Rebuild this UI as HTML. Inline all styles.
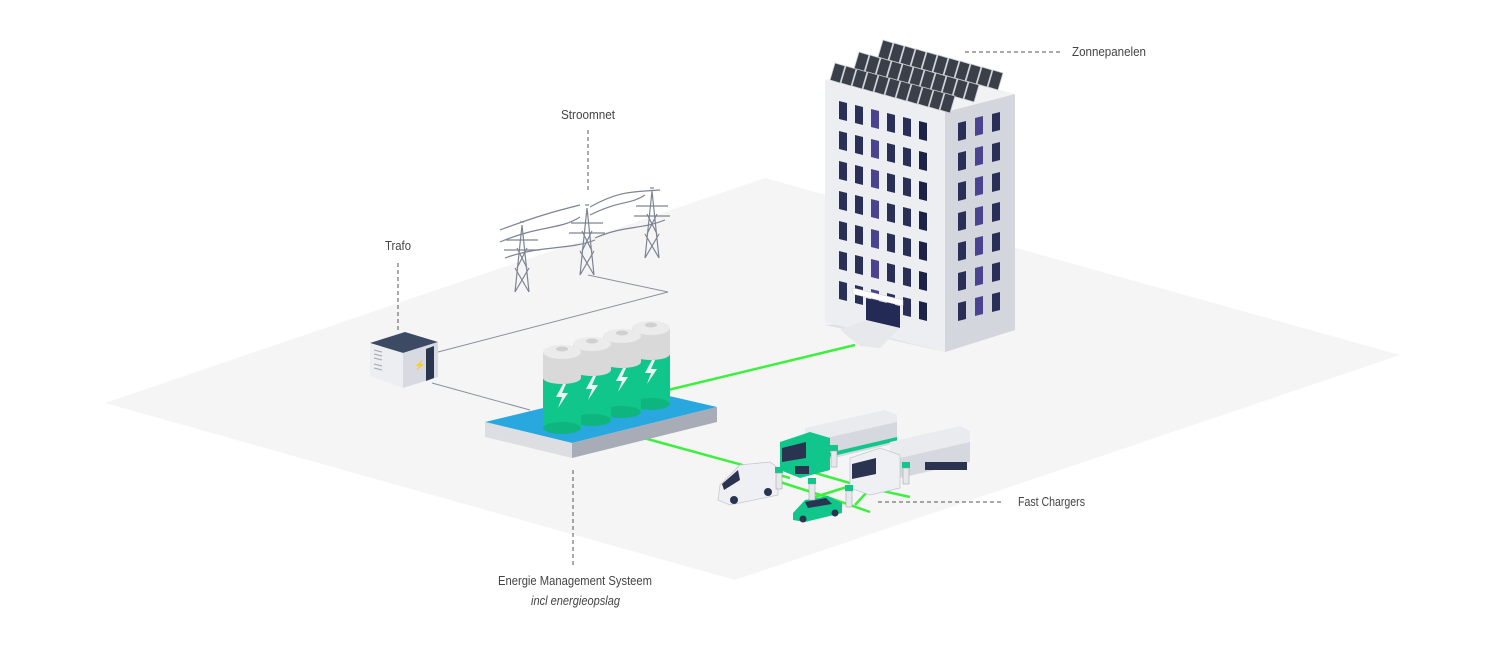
<!DOCTYPE html>
<html><head><meta charset="utf-8"><style>
html,body{margin:0;padding:0;background:#fff;}
svg{display:block}
text{font-family:"Liberation Sans",sans-serif;font-size:13px;fill:#444;}
</style></head><body>
<svg width="1500" height="670" viewBox="0 0 1500 670" xmlns="http://www.w3.org/2000/svg">
<defs>
<g id="bat">
<rect x="543" y="352" width="38" height="76" fill="#11c68a"/>
<ellipse cx="562" cy="428" rx="19" ry="6" fill="#0fb57e"/>
<rect x="543" y="352" width="38" height="26" fill="#d9d9d9"/>
<ellipse cx="562" cy="378" rx="19" ry="6" fill="#d9d9d9"/>
<ellipse cx="562" cy="352" rx="19" ry="7" fill="#ebebeb"/>
<ellipse cx="562" cy="349" rx="6" ry="2.5" fill="#d0d0d0"/>
<polygon points="563,384 556,397 562,397 558,408 568,393 562,393 566,384" fill="#e9f7f1"/>
</g>
<g id="ch"><rect x="0" y="0" width="8" height="6" fill="#11c68a"/><rect x="1" y="6" width="6" height="16" fill="#e6e8eb" stroke="#999" stroke-width="0.5"/></g>
<g id="pan"><polygon points="0,0 10,3 15,-14 5,-17" fill="#3a3f4a" stroke="#c9ccd2" stroke-width="0.8"/></g>
<g id="prow">
<use href="#pan" x="0" y="0"/><use href="#pan" x="11" y="3"/><use href="#pan" x="22" y="6"/><use href="#pan" x="33" y="9"/><use href="#pan" x="44" y="12"/><use href="#pan" x="55" y="15"/><use href="#pan" x="66" y="18"/><use href="#pan" x="77" y="21"/><use href="#pan" x="88" y="24"/><use href="#pan" x="99" y="27"/><use href="#pan" x="110" y="30"/>
</g>
<g id="tw">
<path d="M522,225 L515,292 M522,225 L529,292 M515,292 L529,268 M529,292 L515,268 M517,268 L527,248 M527,268 L517,248 M506,240 L538,240 M504,250 L540,250 M520,222 L524,222"/>
</g>
</defs>
<!-- floor -->
<polygon points="105,403 765,178 1400,355 735,580" fill="#f5f5f6"/>

<!-- grey cables -->
<polyline points="438,352 668,292 588,275" fill="none" stroke="#8a909c" stroke-width="1"/>
<line x1="432" y1="383" x2="530" y2="410" stroke="#8a909c" stroke-width="1"/>

<!-- green lines -->
<g stroke="#3df03d" stroke-width="2.5" fill="none">
<line x1="668" y1="390" x2="855" y2="345"/>
<line x1="640" y1="437" x2="790" y2="478"/>
<polyline points="780,482 830,498 870,512"/>
<polyline points="805,470 860,486 910,497"/>
<line x1="850" y1="486" x2="815" y2="497"/>
<line x1="880" y1="478" x2="855" y2="505"/>
</g>

<!-- towers -->
<g stroke="#7c8494" stroke-width="1.2" fill="none">
<path d="M500,242 C540,225 560,230 580,217 M500,230 C540,215 560,210 580,205 M590,215 C620,200 630,205 645,195 M590,207 C620,190 635,192 660,190 M505,258 C540,245 570,250 595,240 M595,238 C625,225 640,230 665,220"/>
<use href="#tw"/>
<use href="#tw" transform="translate(65,-17)"/>
<use href="#tw" transform="translate(130,-34)"/>
</g>

<!-- trafo -->
<polygon points="370,343 405,332 438,342 403,353" fill="#3d4a63"/>
<polygon points="370,343 403,353 403,388 370,376" fill="#eceef1"/>
<polygon points="403,353 438,342 438,377 403,388" fill="#d7dae0"/>
<polygon points="426,349 434,346 434,378 426,381" fill="#2a3550"/>
<g stroke="#a0a5ae" stroke-width="1"><line x1="374" y1="350" x2="382" y2="352"/><line x1="374" y1="354" x2="382" y2="356"/><line x1="374" y1="358" x2="382" y2="360"/><line x1="374" y1="364" x2="382" y2="366"/><line x1="374" y1="368" x2="382" y2="370"/></g>
<text x="414" y="368" style="font-size:9px;fill:#11c68a">⚡</text>

<!-- battery platform -->
<polygon points="485,422 630,387 717,407 572,443" fill="#29a8e0"/>
<polygon points="485,422 572,443 572,458 485,437" fill="#dcdee2"/>
<polygon points="572,443 717,407 717,422 572,458" fill="#a7acb6"/>

<!-- batteries back to front -->
<use href="#bat" transform="translate(89,-24)"/>
<use href="#bat" transform="translate(60,-16)"/>
<use href="#bat" transform="translate(30,-8)"/>
<use href="#bat"/>

<!-- building -->
<polygon points="825,325 945,352 1015,330 940,318" fill="#dfe1e5"/>
<polygon points="825,80 945,112 945,352 825,322" fill="#eceef1"/>
<polygon points="945,112 1015,94 1015,330 945,352" fill="#d3d6dc"/>
<polygon points="825,80 895,62 1015,94 945,112" fill="#f1f2f4"/>
<g fill="#2a2f58">
<g id="lrow">
<polygon points="839,101 847,103 847,121 839,119" /><polygon points="855,105 863,107 863,125 855,123"/><polygon points="871,109 879,111 879,129 871,127" fill="#4a4390"/><polygon points="887,113 895,115 895,133 887,131"/><polygon points="903,117 911,119 911,137 903,135"/><polygon points="919,121 927,123 927,141 919,139" fill="#1c2148"/>
</g>
<use href="#lrow" transform="translate(0,30)"/>
<use href="#lrow" transform="translate(0,60)"/>
<use href="#lrow" transform="translate(0,90)"/>
<use href="#lrow" transform="translate(0,120)"/>
<use href="#lrow" transform="translate(0,150)"/>
<use href="#lrow" transform="translate(0,180)"/>
<g id="rrow">
<polygon points="958,123 966,121 966,139 958,141"/><polygon points="975,118 983,116 983,134 975,136" fill="#4a4390"/><polygon points="992,114 1000,112 1000,130 992,132"/>
</g>
<use href="#rrow" transform="translate(0,30)"/>
<use href="#rrow" transform="translate(0,60)"/>
<use href="#rrow" transform="translate(0,90)"/>
<use href="#rrow" transform="translate(0,120)"/>
<use href="#rrow" transform="translate(0,150)"/>
<use href="#rrow" transform="translate(0,180)"/>
</g>
<!-- entrance -->
<polygon points="853,288 903,300 903,306 853,294" fill="#fff" stroke="#ccc" stroke-width="0.5"/>
<polygon points="866,298 900,306 900,328 866,320" fill="#232a55"/>
<polygon points="840,330 866,320 900,328 880,348 860,346" fill="#e6e8eb"/>
<!-- solar panels -->
<use href="#prow" transform="translate(878,57)"/>
<use href="#prow" transform="translate(854,69)"/>
<use href="#prow" transform="translate(830,80)"/>

<!-- vehicles -->
<polygon points="805,428 885,410 897,415 897,443 817,462 805,455" fill="#e9ebee"/>
<polygon points="817,440 897,422 897,443 817,462" fill="#d5d8de"/>
<polygon points="820,455 897,437 897,441 820,459" fill="#11c68a"/>
<polygon points="780,442 810,432 830,438 830,470 800,478 780,470" fill="#11c68a"/>
<polygon points="782,448 806,442 806,458 782,462" fill="#2a3350"/>
<rect x="795" y="466" width="14" height="8" fill="#2a3350"/>
<polygon points="890,442 960,426 970,431 970,462 900,478 890,470" fill="#e9ebee"/>
<polygon points="900,458 970,442 970,462 900,478" fill="#d5d8de"/>
<rect x="925" y="462" width="42" height="8" fill="#2a3350"/>
<polygon points="850,458 880,448 900,455 900,488 870,495 850,488" fill="#eef0f3" stroke="#c5c9d0" stroke-width="0.8"/>
<polygon points="852,464 876,458 876,474 852,479" fill="#2a3350"/>
<polygon points="720,485 740,465 770,462 778,468 778,495 730,505 718,500" fill="#eef0f3" stroke="#c5c9d0" stroke-width="0.8"/>
<polygon points="722,484 738,470 740,480 724,490" fill="#2a3350"/>
<circle cx="734" cy="500" r="4" fill="#2a3350"/>
<circle cx="768" cy="492" r="4" fill="#2a3350"/>
<polygon points="793,513 805,500 828,496 842,503 842,513 805,522 793,520" fill="#11c68a"/>
<polygon points="805,502 826,498 832,504 808,508" fill="#2a3350"/>
<circle cx="803" cy="519" r="3.5" fill="#2a3350"/>
<circle cx="835" cy="513" r="3.5" fill="#2a3350"/>
<use href="#ch" transform="translate(775,467)"/>
<use href="#ch" transform="translate(808,478)"/>
<use href="#ch" transform="translate(845,485)"/>
<use href="#ch" transform="translate(830,445)"/>
<use href="#ch" transform="translate(902,462)"/>

<!-- leader lines -->
<g stroke="#555" stroke-width="1" stroke-dasharray="4,3" fill="none">
<line x1="965" y1="52" x2="1060" y2="52"/>
<line x1="588" y1="130" x2="588" y2="192"/>
<line x1="398" y1="263" x2="398" y2="330"/>
<line x1="573" y1="470" x2="573" y2="566"/>
<line x1="878" y1="502" x2="1003" y2="502"/>
</g>

<text x="1072" y="56" textLength="74" lengthAdjust="spacingAndGlyphs">Zonnepanelen</text>
<text x="561" y="119" textLength="54" lengthAdjust="spacingAndGlyphs">Stroomnet</text>
<text x="385" y="250" textLength="26" lengthAdjust="spacingAndGlyphs">Trafo</text>
<text x="1018" y="506" textLength="67" lengthAdjust="spacingAndGlyphs">Fast Chargers</text>
<text x="498" y="585" textLength="154" lengthAdjust="spacingAndGlyphs">Energie Management Systeem</text>
<text x="531" y="605" textLength="89" lengthAdjust="spacingAndGlyphs" font-style="italic">incl energieopslag</text>
</svg>
</body></html>
